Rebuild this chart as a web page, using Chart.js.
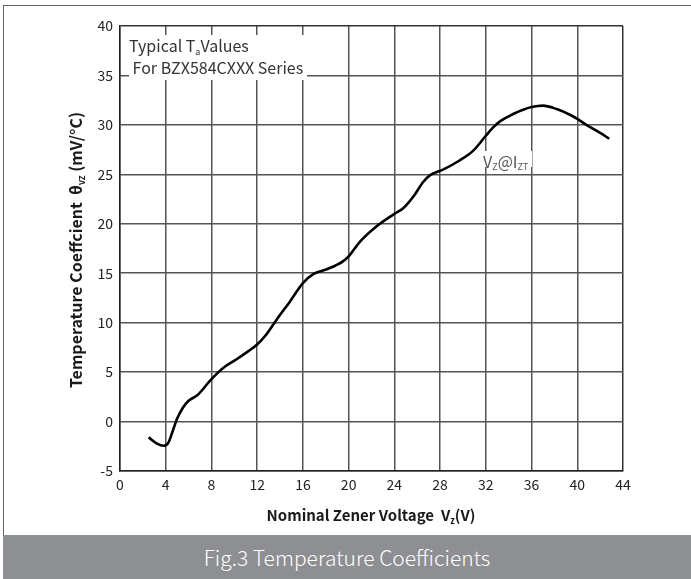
<!DOCTYPE html>
<html>
<head>
<meta charset="utf-8">
<script src="https://cdn.jsdelivr.net/npm/chart.js@4.4.1/dist/chart.umd.min.js"></script>
<style>
  html, body { margin: 0; padding: 0; background: #fff; width: 691px; height: 579px; overflow: hidden; }
  #frame { position: absolute; left: 3px; top: 5px; width: 688px; height: 574px; border-left: 1px solid #666; border-top: 1px solid #666; box-sizing: border-box; }
  #cv { position: absolute; left: 0; top: 0; }
  #caption { position: absolute; left: 3px; top: 535px; width: 688px; height: 44px; background: #8e8f92; color: #fff;
    font-family: "Noto Sans CJK SC", "Noto Sans", sans-serif; font-weight: 300; font-size: 21px; line-height: 44px; text-align: center; }
</style>
</head>
<body>
<div id="frame"></div>
<canvas id="cv" width="691" height="535"></canvas>
<div id="caption">Fig.3 Temperature Coefficients</div>
<script>
// Data
const voltage = [2.5, 3.2, 3.8, 4.2, 4.6, 5.0, 5.5, 6.0, 6.8, 8.0, 9.0, 10.2, 11.2, 12.0, 12.8, 13.7, 14.9, 16.0, 16.9, 18.1, 19.5, 20.0, 21.0, 22.4, 24.0, 24.8, 25.7, 26.5, 27.1, 28.3, 29.7, 30.9, 32.0, 32.6, 33.3, 34.4, 35.2, 36.0, 37.0, 38.2, 39.4, 40.0, 40.8, 42.0, 42.8];
const tempCoeff = [-1.6, -2.2, -2.45, -2.2, -1.0, 0.3, 1.4, 2.1, 2.7, 4.3, 5.4, 6.3, 7.1, 7.8, 8.8, 10.3, 12.2, 14.0, 14.9, 15.4, 16.2, 16.7, 18.2, 19.7, 21.0, 21.6, 22.8, 24.2, 24.9, 25.5, 26.4, 27.4, 28.9, 29.7, 30.4, 31.1, 31.5, 31.8, 31.95, 31.6, 31.0, 30.6, 30.0, 29.2, 28.6];
const xTicks = [0, 4, 8, 12, 16, 20, 24, 28, 32, 36, 40, 44];
const yTicks = [-5, 0, 5, 10, 15, 20, 25, 30, 35, 40];

const FONT = '"Noto Sans CJK SC", "Noto Sans", sans-serif';

function drawRich(ctx, segs, x, y, align) {
  let total = 0;
  segs.forEach(s => { ctx.font = s.font; s.w = ctx.measureText(s.t).width; total += s.w; });
  let cx = align === 'center' ? x - total / 2 : x;
  segs.forEach(s => {
    ctx.font = s.font;
    ctx.fillStyle = s.color;
    ctx.fillText(s.t, cx, y + (s.dy || 0));
    cx += s.w;
  });
  return total;
}

const textPlugin = {
  id: 'textPlugin',
  afterDraw(chart) {
    const ctx = chart.ctx;
    ctx.save();
    ctx.textBaseline = 'alphabetic';
    ctx.textAlign = 'left';
    // annotation background
    ctx.fillStyle = '#fff';
    ctx.fillRect(129, 35, 178, 45);
    ctx.fillRect(482, 151, 50, 16);
    // annotation text
    const c = '#333';
    drawRich(ctx, [
      {t: 'Typical T', font: '16px ' + FONT, color: c},
      {t: 'a', font: '9px ' + FONT, color: c, dy: 3},
      {t: 'Values', font: '16px ' + FONT, color: c}
    ], 129, 52, 'left');
    drawRich(ctx, [
      {t: ' For BZX584CXXX Series', font: '16px ' + FONT, color: c}
    ], 129, 74, 'left');
    const g = '#555';
    drawRich(ctx, [
      {t: 'V', font: '16px ' + FONT, color: g},
      {t: 'Z', font: '9px ' + FONT, color: g, dy: 2},
      {t: '@I', font: '16px ' + FONT, color: g},
      {t: 'ZT', font: '9px ' + FONT, color: g, dy: 2}
    ], 483, 168, 'left');
    // x axis title
    const tc = '#1a1a1a';
    drawRich(ctx, [
      {t: 'Nominal Zener Voltage  V', font: 'bold 15px ' + FONT, color: tc},
      {t: 'z', font: 'bold 9px ' + FONT, color: tc, dy: 3},
      {t: '(V)', font: 'bold 15px ' + FONT, color: tc}
    ], 371, 521, 'center');
    // y axis title
    ctx.translate(82, 250);
    ctx.rotate(-Math.PI / 2);
    drawRich(ctx, [
      {t: 'Temperature Coeffcient  θ', font: 'bold 16px ' + FONT, color: tc},
      {t: 'VZ', font: 'bold 8px ' + FONT, color: tc, dy: 3},
      {t: ' (mV/°C)', font: 'bold 16px ' + FONT, color: tc}
    ], 0, 0, 'center');
    ctx.restore();
  }
};

new Chart(document.getElementById('cv'), {
  type: 'scatter',
  data: {
    datasets: [{
      data: voltage.map((v, i) => ({x: v, y: tempCoeff[i]})),
      showLine: true,
      borderColor: '#000',
      borderWidth: 2.6,
      pointRadius: 0,
      cubicInterpolationMode: 'monotone',
      fill: false
    }]
  },
  options: {
    responsive: false,
    animation: false,
    devicePixelRatio: 1,
    layout: { padding: { left: 0, top: 26, right: 68, bottom: 0 } },
    plugins: { legend: { display: false }, tooltip: { enabled: false } },
    scales: {
      x: {
        type: 'linear', min: 0, max: 44,
        afterBuildTicks: s => { s.ticks = xTicks.map(v => ({value: v})); },
        afterFit: s => { s.height = 64; },
        ticks: { color: '#222', font: { family: FONT, size: 14 }, padding: 5, maxRotation: 0 },
        grid: { color: ctx => (ctx.tick && ctx.tick.value === 44) ? '#333' : '#555', lineWidth: 1.5, drawTicks: false, tickLength: 0 },
        border: { color: '#222', width: 1.5 }
      },
      y: {
        type: 'linear', min: -5, max: 40,
        afterBuildTicks: s => { s.ticks = yTicks.map(v => ({value: v})); },
        afterFit: s => { s.width = 120; },
        ticks: { color: '#222', font: { family: FONT, size: 14 }, padding: 7 },
        grid: { color: ctx => (ctx.tick && ctx.tick.value === 40) ? '#333' : '#555', lineWidth: 1.5, drawTicks: false, tickLength: 0 },
        border: { color: '#222', width: 1.5 }
      }
    }
  },
  plugins: [textPlugin]
});
</script>
</body>
</html>
